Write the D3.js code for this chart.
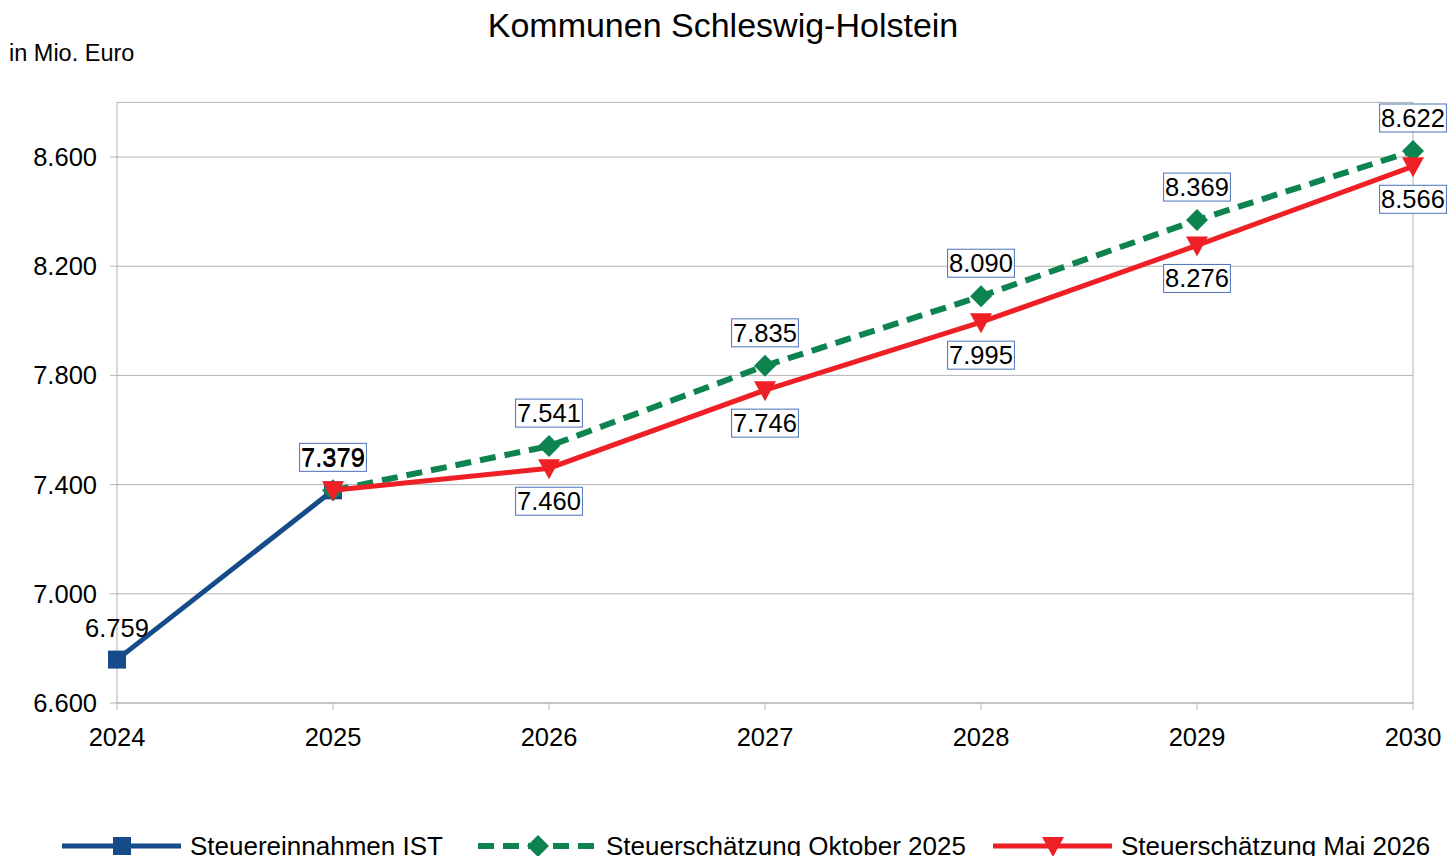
<!DOCTYPE html>
<html>
<head>
<meta charset="utf-8">
<script src="https://cdn.jsdelivr.net/npm/d3@7"></script>
<style>
  body { margin: 0; background: #fff; }
  svg { display: block; font-family: "Liberation Sans", Arial, sans-serif; }
</style>
</head>
<body>
<div id="chart"></div>
<script>
// data
const years = [2024, 2025, 2026, 2027, 2028, 2029, 2030];
const yTicks = [6600, 7000, 7400, 7800, 8200, 8600];
const istYears = [2024, 2025];
const istValues = [6759, 7379];
const oktYears = [2025, 2026, 2027, 2028, 2029, 2030];
const oktValues = [7379, 7541, 7835, 8090, 8369, 8622];
const maiYears = [2026, 2027, 2028, 2029, 2030];
const maiValues = [7460, 7746, 7995, 8276, 8566];
const maiStart = [2025, 7379];   // line starts here, no label

const W = 1449, H = 856;
const m = {left: 117, top: 102, right: 36, bottom: 153};
const colors = {ist: '#164b8a', okt: '#0d8450', mai: '#ee2026'};
const fmt = d3.format(',');
const fmtDe = v => fmt(v).replace(/,/g, '.');
const FS = 25.5;

const svg = d3.select('#chart').append('svg').attr('width', W).attr('height', H);

const x = d3.scaleLinear().domain([2024, 2030]).range([m.left, W - m.right]);
const y = d3.scaleLinear().domain([6600, 8800]).range([H - m.bottom, H - m.bottom - 2200 * 0.273]);

// frame + grid
svg.append('rect')
  .attr('x', x(2024)).attr('y', y(8800))
  .attr('width', x(2030) - x(2024)).attr('height', y(6600) - y(8800))
  .attr('fill', 'none').attr('stroke', '#b3b3b3').attr('stroke-width', 1);

svg.append('g').selectAll('line').data(yTicks).join('line')
  .attr('x1', x(2024) - 7).attr('x2', x(2030))
  .attr('y1', d => y(d)).attr('y2', d => y(d))
  .attr('stroke', '#b3b3b3').attr('stroke-width', 1);

svg.append('g').selectAll('line').data(years).join('line')
  .attr('x1', d => x(d)).attr('x2', d => x(d))
  .attr('y1', y(6600)).attr('y2', y(6600) + 7)
  .attr('stroke', '#b3b3b3').attr('stroke-width', 1);

// tick labels
svg.append('g').selectAll('text').data(yTicks).join('text')
  .attr('x', x(2024) - 20).attr('y', d => y(d) + 9)
  .attr('text-anchor', 'end').attr('font-size', FS).attr('fill', '#000')
  .text(d => fmtDe(d));

svg.append('g').selectAll('text').data(years).join('text')
  .attr('x', d => x(d)).attr('y', y(6600) + 43)
  .attr('text-anchor', 'middle').attr('font-size', FS).attr('fill', '#000')
  .text(d => d);

// titles
svg.append('text').attr('x', 723).attr('y', 37).attr('text-anchor', 'middle')
  .attr('font-size', 34).attr('fill', '#000').text('Kommunen Schleswig-Holstein');
svg.append('text').attr('x', 9).attr('y', 61)
  .attr('font-size', 23.5).attr('fill', '#000').text('in Mio. Euro');

const line = d3.line().x(d => x(d[0])).y(d => y(d[1]));
const ist = istYears.map((yr, i) => [yr, istValues[i]]);
const okt = oktYears.map((yr, i) => [yr, oktValues[i]]);
const mai = [maiStart].concat(maiYears.map((yr, i) => [yr, maiValues[i]]));

const sym = {
  square: () => 'M-9,-9H9V9H-9Z',
  diamond: () => 'M0,-11L11,0L0,11L-11,0Z',
  tri: () => 'M-11,-9L11,-9L0,11Z'
};

function series(data, color, width, dash, marker) {
  const g = svg.append('g');
  g.append('path').datum(data).attr('d', line)
    .attr('fill', 'none').attr('stroke', color).attr('stroke-width', width)
    .attr('stroke-dasharray', dash);
  g.selectAll('path.mk').data(data).join('path').attr('class', 'mk')
    .attr('d', marker)
    .attr('transform', d => `translate(${x(d[0])},${y(d[1])})`)
    .attr('fill', color);
}

series(ist, colors.ist, 5, null, sym.square);
series(okt, colors.okt, 6, '16,9', sym.diamond);
series(mai, colors.mai, 5, null, sym.tri);

// data labels
function labels(data, dy, boxed) {
  const g = svg.append('g');
  data.forEach(d => {
    const cx = x(d[0]), cy = y(d[1]) + dy;
    const t = g.append('text').attr('x', cx).attr('y', cy + 9)
      .attr('text-anchor', 'middle').attr('font-size', FS).attr('fill', '#000')
      .text(fmtDe(d[1]));
    if (boxed) {
      const w = t.node().getComputedTextLength();
      g.insert('rect', 'text')
        .attr('x', cx - w / 2 - 1.5).attr('y', cy - 14)
        .attr('width', w + 3).attr('height', 28)
        .attr('fill', '#fff').attr('stroke', '#4a72b8').attr('stroke-width', 1);
    }
  });
}
labels(okt, -33, true);
labels(maiYears.map((yr, i) => [yr, maiValues[i]]), 33, true);
labels(ist, -32, false);

// legend
const legend = [
  {name: 'Steuereinnahmen IST', color: colors.ist, x0: 62, dash: null, w: 5, mk: sym.square},
  {name: 'Steuerschätzung Oktober 2025', color: colors.okt, x0: 478, dash: '16,9', w: 6, mk: sym.diamond},
  {name: 'Steuerschätzung Mai 2026', color: colors.mai, x0: 993, dash: null, w: 5, mk: sym.tri}
];
const ly = 846;
const lg = svg.append('g').selectAll('g').data(legend).join('g');
lg.append('line')
  .attr('x1', d => d.x0).attr('x2', d => d.x0 + 119)
  .attr('y1', ly).attr('y2', ly)
  .attr('stroke', d => d.color).attr('stroke-width', d => d.w)
  .attr('stroke-dasharray', d => d.dash);
lg.append('path')
  .attr('d', d => d.mk())
  .attr('transform', d => `translate(${d.x0 + 60},${ly})`)
  .attr('fill', d => d.color);
lg.append('text')
  .attr('x', d => d.x0 + 128).attr('y', ly + 9)
  .attr('font-size', 26).attr('fill', '#000')
  .text(d => d.name);
</script>
</body>
</html>
